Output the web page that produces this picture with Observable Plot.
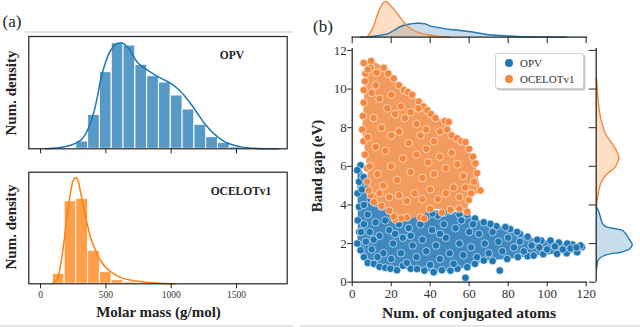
<!DOCTYPE html>
<html><head><meta charset="utf-8">
<script src="https://cdn.jsdelivr.net/npm/d3@7"></script>
<script src="https://cdn.jsdelivr.net/npm/@observablehq/plot@0.6"></script>
<style>
body{margin:0;background:#fff;}
#fig{position:relative;width:640px;height:327px;overflow:hidden;font-family:"Liberation Serif","Times New Roman",serif;color:#222;}
#fig svg, #fig svg text{font-family:"Liberation Serif","Times New Roman",serif !important;}
.p{position:absolute;}
.p svg{display:block;}
.t{position:absolute;white-space:nowrap;transform:translate(-50%,-50%);line-height:1;}
.b{font-weight:bold;font-size:15px;}
.rot{transform:translate(-50%,-50%) rotate(-90deg);}
.sep{position:absolute;height:1.5px;background:#e4e4e4;}
#legend{position:absolute;left:495px;top:53px;width:87px;height:34px;border:1px solid #d2d2d2;border-radius:3px;box-shadow:1.5px 1.5px 0 #c8c8c8;background:#fff;font-size:11px;color:#333;}
.li{position:absolute;left:9px;display:flex;align-items:center;}
.li i{display:inline-block;width:8px;height:8px;border-radius:50%;margin-right:7px;}
</style></head>
<body><div id="fig"></div>
<script>
// ---------- (a) molar mass histograms ----------
const massTicks = [0, 500, 1000, 1500];
const binWidth = 90.3;
const opvBinStart = [273, 364, 454, 545, 635, 726, 816, 906, 997, 1087, 1178, 1268, 1358, 1449];
const opvBinH     = [22, 102, 230, 317, 310, 252, 218, 199, 160, 118, 72, 35, 18, 5];
const ocelotBinStart = [94, 184, 273, 364, 454, 545, 635];
const ocelotBinH     = [30, 248, 255, 99, 35, 11, 5];
const opvKdeX = [38,140,242,319,370,408,434,459,498,536,574,612,638,676,714,752,804,855,906,957,1008,1059,1110,1160,1212,1263,1314,1365,1416,1467,1543,1671,1824];
const opvKdeY = [0,3,12,30,65,110,155,205,260,295,313,318,315,300,275,255,240,227,215,205,193,177,155,130,100,72,50,33,20,12,5,1,0];
const ocelotKdeX = [89,128,153,179,204,230,250,268,286,306,332,357,382,421,459,510,561,625,702,803,906,1033];
const ocelotKdeY = [0,15,55,125,205,275,310,319,310,275,225,180,140,100,70,45,30,17,10,5,2,0];

// ---------- (b) band gap vs conjugated atoms ----------
const atomTicks = [0, 20, 40, 60, 80, 100, 120];
const gapTicks = [0, 2, 4, 6, 8, 10, 12];
const opvHull = [[4.3,6.05],[2.6,5.8],[2.9,3.2],[2.6,2.0],[4.3,1.65],[8,1.0],[11.1,0.95],[19.6,0.7],[33.3,0.68],[41.8,0.52],[50.4,0.6],[59,0.78],[67.5,1.12],[79.5,1.2],[93.1,1.38],[105.1,1.47],[115.4,1.55],[117.9,1.82],[117.1,1.9],[110.3,2.0],[101.7,2.15],[94.9,2.2],[84.6,2.6],[78.6,2.85],[70.9,3.02],[67.5,3.1],[59,3.5],[50.4,3.7],[19.6,3.8],[9.4,4.3],[7.7,4.9],[5.9,5.45]];
const ocelotHull = [[6,11.4],[9.7,11.5],[16.2,11.15],[21.3,10.55],[26.5,9.95],[30.8,9.7],[34.2,9.35],[38.5,8.9],[42.7,8.5],[48.7,8.35],[48.7,7.9],[53.8,7.45],[58.1,7.25],[63.2,6.15],[64.1,5.65],[65.8,4.75],[59.8,4.25],[59,3.65],[50.4,3.75],[40,3.8],[35,3.35],[28,3.35],[22,3.25],[19,3.7],[15,3.95],[11.1,4.15],[8.5,4.75],[7.7,5.9],[5.8,7.3],[5.1,7.9],[5.9,9.3],[6.8,10.8]];
const opvPts = [[4.3,6.05],[2.6,5.8],[3.5,5.2],[2.8,4.6],[3.5,3.9],[2.9,3.2],[3.6,2.6],[2.6,2.0],[4.3,1.65],[6,1.3],[8,1.0],[11.1,0.95],[14,0.8],[17,0.75],[19.6,0.7],[23,0.62],[26,0.85],[30,0.7],[33.3,0.68],[37,0.6],[41.8,0.52],[46,0.62],[50.4,0.6],[54,0.7],[58.1,0.23],[59,0.78],[63,0.95],[67.5,1.12],[75.7,0.6],[72,1.1],[79.5,1.2],[85,1.3],[90,1.35],[93.1,1.38],[98,1.45],[105.1,1.47],[110,1.5],[115.4,1.55],[117.9,1.82],[117.1,1.9],[113,1.95],[110.3,2.0],[106,2.05],[101.7,2.15],[97,2.15],[94.9,2.2],[90,2.35],[86,2.5],[84.6,2.6],[81,2.75],[78.6,2.85],[74,2.9],[70.9,3.02],[67.5,3.1],[63,3.3],[59,3.5],[55,3.5],[50.4,3.7],[47,3.6],[44,3.45],[41,3.55],[38,3.4],[33,3.6],[30,3.5],[26,3.6],[22,3.7],[19.6,3.8],[15,3.9],[12,4.1],[9.4,4.3],[7.7,4.9],[5.9,5.45],
  [6,4],[8,3.5],[6,3],[9,2.6],[7,2.1],[10,1.7],[12,3.1],[14,2.4],[16,1.5],[13,1.3],[17,3.2],[19,2.7],[21,2.0],[20,1.2],[24,3.0],[26,2.3],[25,1.5],[28,1.0],[29,2.8],[31,1.9],[33,1.3],[35,3.0],[36,2.2],[38,1.6],[40,0.9],[41,2.7],[43,1.9],[45,1.2],[47,3.0],[48,2.3],[50,1.5],[52,0.95],[53,2.8],[55,2.0],[57,1.4],[60,2.6],[61,1.8],[64,1.3],[65,2.5],[68,2.0],[70,1.5],[72,2.6],[75,2.1],[77,1.6],[80,2.3],[83,1.8],[86,2.1],[88,1.6],[92,1.9],[96,1.8],[100,1.7],[104,1.85],[108,1.7],[112,1.75],[115,1.8],[56,3.2],[62,3.0],[45,2.5],[30,2.4],[22,2.5],[11,2.2],[4.5,2.6],[5,4.8]];
const ocelotPts = [[5.9,11.35],[9.7,11.45],[9.5,11.1],[12.5,10.85],[16.2,11.1],[18.5,10.8],[21.3,10.55],[24,10.2],[26.5,9.95],[28.5,9.85],[30.8,9.7],[34.2,9.35],[36.5,9.1],[38.5,8.9],[40.5,8.7],[42.7,8.5],[47.5,8.35],[49.5,8.3],[48.7,7.9],[51,7.6],[53.8,7.45],[56,7.3],[58.1,7.25],[60,6.9],[62,6.5],[63.2,6.15],[64.1,5.65],[62.5,5.2],[65.8,4.75],[61,4.6],[59.8,4.25],[59,3.65],[55,3.8],[50.4,3.75],[46,3.6],[40,3.8],[35,3.35],[37,3.3],[28,3.35],[25,3.3],[22,3.25],[21.3,3.4],[19,3.7],[15,3.95],[11.1,4.15],[9.5,4.5],[8.5,4.75],[7.7,5.2],[7.7,5.9],[6.5,6.6],[5.8,7.3],[5.1,7.9],[5.5,8.6],[5.9,9.3],[5.9,9.95],[6.5,10.4],[6.8,10.8],[8,11.0],
  [10,9.8],[12,10.2],[14,9.5],[11,8.5],[15,8.0],[18,9.0],[20,9.7],[22,8.7],[25,9.1],[8,7.5],[12,7.0],[17,6.8],[20,7.6],[24,7.8],[27,8.5],[30,8.8],[33,8.2],[29,7.2],[35,7.6],[38,7.9],[42,7.3],[45,7.8],[9,6.0],[13,5.6],[16,5.0],[20,6.0],[23,5.3],[26,6.4],[30,5.7],[33,6.6],[36,5.4],[39,6.2],[42,5.6],[45,6.5],[48,5.9],[51,6.7],[54,6.1],[57,5.5],[52,4.9],[48,4.6],[44,4.3],[40,4.8],[36,4.3],[32,4.6],[28,4.2],[24,4.5],[19,4.4],[14,4.6],[55,4.4],[58,4.9],[38,6.9],[34,9.0]];
// top marginal KDE (x = conjugated atoms)
const ocelotXk = [6.5,7.7,9.4,11.1,12.8,14.5,16.2,17.4,18.8,21.3,23.9,26.5,29.0,31.6,35.0,40.2,45.3,50.4];
const ocelotXd = [0,0.7,5,11.7,21.7,30,35,35.7,33.3,28.3,21.7,15,10,6.7,4,2,0.7,0];
const opvXk = [4.3,11.1,17.9,21.3,24.8,28.2,33.3,37.6,40.2,45.3,50.4,55.5,62.4,69.2,76.1,84.6,96.6,110];
const opvXd = [0,1,3.3,6.7,10.7,12.7,14,13.3,11,9.3,7.7,6.7,5,2.7,1.7,0.7,0.3,0];
// right marginal KDE (y = band gap)
const ocelotYk = [10.6,10.1,9.59,8.55,7.69,7.17,6.74,6.48,6.22,5.87,5.62,5.27,4.92,4.49,4.23,3.9];
const ocelotYd = [0.2,1,1.6,4.3,9.3,16,21,22.6,21.6,17.6,11,6,3.3,1.6,1,0.2];
const opvYk = [3.9,3.8,3.65,2.95,2.78,2.69,2.52,2.26,1.95,1.73,1.55,1.47,1.33,1.12,0.95,0.7];
const opvYd = [0.3,1,2.6,7.6,17.6,26,29.3,32.6,36,33.6,24.3,14.3,6,1.6,1,0.3];

const BLUE = "#1f77b4", ORANGE = "#f5883f";
const SERIF = '"Liberation Serif","Times New Roman",serif';
const fig = document.getElementById("fig");
const st = {background:"transparent", fontFamily:SERIF, color:"#222", overflow:"visible"};
function place(node, left, top){ const d=document.createElement("div"); d.className="p"; d.style.left=left+"px"; d.style.top=top+"px"; d.appendChild(node); fig.appendChild(d); }
function text(s, x, y, cls, extra){ const d=document.createElement("div"); d.className="t "+(cls||""); d.style.left=x+"px"; d.style.top=y+"px"; if(extra) Object.assign(d.style, extra); d.textContent=s; fig.appendChild(d); }
const bins = (starts, hs) => starts.map((s,i)=>({x1:s, x2:s+binWidth, h:hs[i]}));
const pairs = (xs, ys) => xs.map((x,i)=>({x, y:ys[i]}));

function hist(starts, hs, kx, ky, color, ydom, opts){
  return Plot.plot({
    width:295, height:opts.height, marginLeft:28.3, marginRight:8.3, marginTop:opts.mt, marginBottom:opts.mb,
    x:{domain:[-90,1888]}, y:{domain:ydom, axis:null}, style:st,
    marks:[
      Plot.rectY(bins(starts,hs), {x1:"x1", x2:"x2", y:"h", fill:color, fillOpacity:0.75, stroke:"white", strokeWidth:1}),
      Plot.line(pairs(kx,ky), {x:"x", y:"y", stroke:color, strokeWidth:1.5, curve:"catmull-rom"}),
      Plot.frame({stroke:"#222", strokeWidth:1.2}),
      Plot.axisX({ticks:massTicks, tickSize:5, tickPadding:2.5, fontSize:9.5, fontFamily:SERIF, label:null, fill:"#333",
                  tickFormat: opts.labels ? (d=>String(d)) : (()=> "")})
    ]
  });
}
place(hist(opvBinStart, opvBinH, opvKdeX, opvKdeY, BLUE, [0,337], {height:160, mt:36, mb:11.7, labels:false}), 0, 0);
place(hist(ocelotBinStart, ocelotBinH, ocelotKdeX, ocelotKdeY, "#ff7f0e", [0,335], {height:150, mt:11.7, mb:26.7, labels:true}), 0, 160);

// joint scatter
const xy = {x:d=>d[0], y:d=>d[1]};
place(Plot.plot({
  width:300, height:287, marginLeft:51.7, marginRight:13, marginTop:8, marginBottom:45.3,
  x:{domain:[0,120.7]}, y:{domain:[0,12.1]}, style:st,
  marks:[
    Plot.line(opvHull, {...xy, fill:"#3f88c0", stroke:"none", curve:"linear-closed"}),
    Plot.dot(opvPts, {...xy, r:3.8, fill:BLUE, stroke:"white", strokeWidth:0.6}),
    Plot.line(ocelotHull, {...xy, fill:"#f39a5e", stroke:"none", curve:"linear-closed"}),
    Plot.dot(ocelotPts, {...xy, r:3.8, fill:ORANGE, stroke:"white", strokeWidth:0.6}),
    Plot.ruleX([0], {stroke:"#222", strokeWidth:1.25}),
    Plot.ruleY([0], {stroke:"#222", strokeWidth:1.25}),
    Plot.axisX({ticks:atomTicks, tickSize:4.5, tickPadding:2, fontSize:13, fontFamily:SERIF, label:null, fill:"#333"}),
    Plot.axisY({ticks:gapTicks, tickSize:4.5, tickPadding:1, fontSize:13, fontFamily:SERIF, label:null, fill:"#333"})
  ]
}), 300, 40);

// top marginal
place(Plot.plot({
  width:260, height:45, marginLeft:11.7, marginRight:13, marginTop:0.7, marginBottom:8.3,
  x:{domain:[0,120.7]}, y:{domain:[0,36], axis:null}, style:st,
  marks:[
    Plot.areaY(pairs(opvXk,opvXd), {x:"x", y:"y", fill:BLUE, fillOpacity:0.25, curve:"catmull-rom"}),
    Plot.areaY(pairs(ocelotXk,ocelotXd), {x:"x", y:"y", fill:"#ff7f0e", fillOpacity:0.25, curve:"catmull-rom"}),
    Plot.line(pairs(opvXk,opvXd), {x:"x", y:"y", stroke:BLUE, strokeWidth:1.4, curve:"catmull-rom"}),
    Plot.line(pairs(ocelotXk,ocelotXd), {x:"x", y:"y", stroke:ORANGE, strokeWidth:1.4, curve:"catmull-rom"}),
    Plot.ruleY([0], {stroke:"#222", strokeWidth:1.25}),
    Plot.axisX({ticks:atomTicks, tickSize:6.5, tickFormat:()=>"", label:null})
  ]
}), 340, 0);

// right marginal
const pairsY = (ys, ds) => ys.map((y,i)=>({y, d:ds[i]}));
place(Plot.plot({
  width:55, height:287, marginLeft:10.7, marginRight:0, marginTop:8, marginBottom:45.3,
  x:{domain:[0,44.3], axis:null}, y:{domain:[0,12.1]}, style:st,
  marks:[
    Plot.areaX(pairsY(opvYk,opvYd), {y:"y", x:"d", fill:BLUE, fillOpacity:0.25, curve:"catmull-rom"}),
    Plot.areaX(pairsY(ocelotYk,ocelotYd), {y:"y", x:"d", fill:"#ff7f0e", fillOpacity:0.25, curve:"catmull-rom"}),
    Plot.line(pairsY(opvYk,opvYd), {y:"y", x:"d", stroke:BLUE, strokeWidth:1.4, curve:"catmull-rom"}),
    Plot.line(pairsY(ocelotYk,ocelotYd), {y:"y", x:"d", stroke:ORANGE, strokeWidth:1.4, curve:"catmull-rom"}),
    Plot.ruleX([0], {stroke:"#222", strokeWidth:1.25}),
    Plot.axisY({ticks:gapTicks, tickSize:7, tickFormat:()=>"", label:null})
  ]
}), 585, 40);

// texts
text("(a)", 12, 21, "", {fontSize:"17px"});
text("(b)", 323, 26, "", {fontSize:"17px"});
text("OPV", 232, 56, "", {fontWeight:"bold", fontSize:"11.5px"});
text("OCELOTv1", 241, 192, "", {fontWeight:"bold", fontSize:"11.5px"});
text("Num. density", 11, 92.5, "b rot");
text("Num. density", 11, 227, "b rot");
text("Molar mass (g/mol)", 158.5, 312, "b");
text("Band gap (eV)", 317, 166, "b rot");
text("Num. of conjugated atoms", 469, 312.5, "b", {fontSize:"15.5px"});

// separators
[[25,31,268],[0,325,293],[300,325,340]].forEach(([l,t,w])=>{const d=document.createElement("div"); d.className="sep"; d.style.left=l+"px"; d.style.top=t+"px"; d.style.width=w+"px"; fig.appendChild(d);});

// legend
const lg = document.createElement("div"); lg.id="legend";
[["OPV",BLUE,3],["OCELOTv1",ORANGE,19]].forEach(([n,c,t])=>{const r=document.createElement("div"); r.className="li"; r.style.top=t+"px"; r.innerHTML=`<i style="background:${c}"></i><span>${n}</span>`; lg.appendChild(r);});
fig.appendChild(lg);
</script></body></html>
